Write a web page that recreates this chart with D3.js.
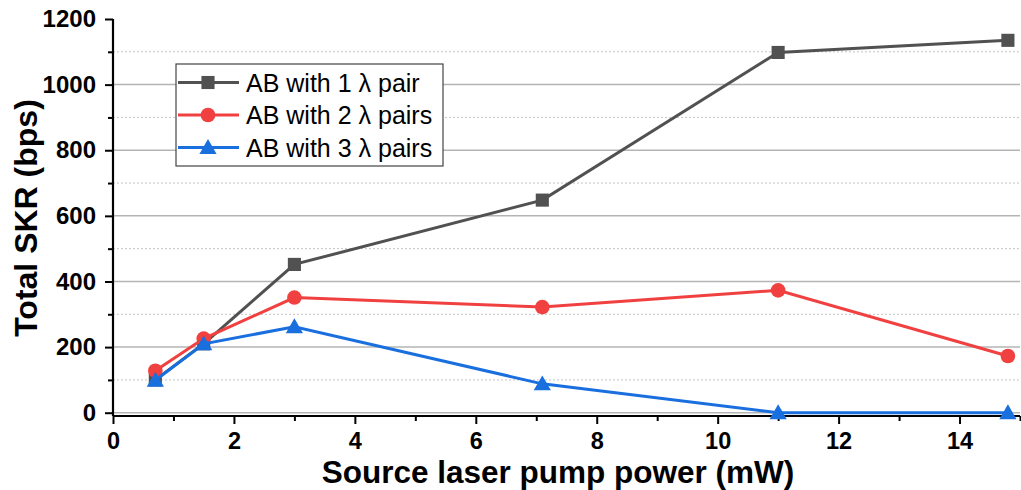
<!DOCTYPE html>
<html>
<head>
<meta charset="utf-8">
<script src="https://cdn.jsdelivr.net/npm/d3@7"></script>
<style>
    body { margin: 0; background: #fff; }
    svg { display: block; font-family: "Liberation Sans", Arial, sans-serif; }
</style>
</head>
<body>
<div id="chart"></div>
<script>
const pumpPower = [0.7, 1.5, 3, 7.1, 11, 14.8];
const onePair = [100, 210, 452, 648, 1098, 1135];
const twoPairs = [128, 226, 351, 322, 373, 173];
const threePairs = [99, 210, 262, 88, 0, 0];
const seriesNames = ['AB with 1 λ pair', 'AB with 2 λ pairs', 'AB with 3 λ pairs'];
const xTicks = [0, 2, 4, 6, 8, 10, 12, 14];
const yTicks = [0, 200, 400, 600, 800, 1000, 1200];

const attrs = {
    svgWidth: 1021,
    svgHeight: 490,
    marginLeft: 113,
    marginTop: 19,
    chartWidth: 907,
    chartHeight: 397,
    colors: ['#515151', '#F14040', '#1A6FDF'],
    symbols: [d3.symbolSquare, d3.symbolCircle, d3.symbolTriangle],
    symbolSizes: [172, 168, 128]
};

const series = [onePair, twoPairs, threePairs].map((vals, i) => ({
    name: seriesNames[i],
    color: attrs.colors[i],
    symbol: attrs.symbols[i],
    size: attrs.symbolSizes[i],
    points: vals.map((v, j) => ({ x: pumpPower[j], y: v }))
}));

const svg = d3.select('#chart').append('svg')
    .attr('width', attrs.svgWidth)
    .attr('height', attrs.svgHeight);

const chart = svg.append('g')
    .attr('transform', `translate(${attrs.marginLeft},${attrs.marginTop})`);

const xScale = d3.scaleLinear().domain([0, 15]).range([0, attrs.chartWidth]);
const yScale = d3.scaleLinear().domain([-10, 1200]).range([attrs.chartHeight, 0]);

// grid lines: solid at majors, dotted at minors
const minorY = d3.range(100, 1200, 200);
chart.append('g').selectAll('line').data(yTicks.filter(d => d < 1200))
    .join('line')
    .attr('x1', 0).attr('x2', attrs.chartWidth)
    .attr('y1', d => yScale(d)).attr('y2', d => yScale(d))
    .attr('stroke', '#b4b4b4').attr('stroke-width', 1.5);
chart.append('g').selectAll('line').data(minorY)
    .join('line')
    .attr('x1', 0).attr('x2', attrs.chartWidth)
    .attr('y1', d => yScale(d)).attr('y2', d => yScale(d))
    .attr('stroke', '#c4c4c4').attr('stroke-width', 1).attr('stroke-dasharray', '2 2');

// axes
const xAxis = d3.axisBottom(xScale).tickValues(xTicks).tickSize(8).tickPadding(8).tickFormat(d3.format('d'));
const yAxis = d3.axisLeft(yScale).tickValues(yTicks).tickSize(8).tickPadding(9).tickFormat(d3.format('d'));

const xAxisWrap = chart.append('g').attr('transform', `translate(0,${attrs.chartHeight})`).call(xAxis);
xAxisWrap.append('g').call(d3.axisBottom(xScale).tickValues(d3.range(1, 16, 2)).tickSize(5).tickFormat(''))
    .select('.domain').remove();
const yAxisWrap = chart.append('g').call(yAxis);
yAxisWrap.append('g').call(d3.axisLeft(yScale).tickValues(minorY).tickSize(5).tickFormat(''))
    .select('.domain').remove();

[xAxisWrap, yAxisWrap].forEach(w => {
    w.selectAll('.domain').attr('stroke', '#000').attr('stroke-width', 2.2);
    w.selectAll('.tick line').attr('stroke', '#000').attr('stroke-width', 2);
    w.selectAll('text').attr('fill', '#000').attr('font-size', 24).attr('font-weight', 'bold')
        .attr('font-family', '"Liberation Sans", Arial, sans-serif');
});
xAxisWrap.selectAll('text').attr('font-size', 23.5);
yAxisWrap.selectAll('.domain').attr('d', `M0,${attrs.chartHeight}V0`);
xAxisWrap.selectAll('.domain').attr('d', `M0,0H${attrs.chartWidth}`);

// axis titles
svg.append('text')
    .text('Source laser pump power (mW)')
    .attr('x', 558).attr('y', 483)
    .attr('text-anchor', 'middle')
    .attr('font-size', 31.5).attr('font-weight', 'bold');

svg.append('text')
    .text('Total SKR (bps)')
    .attr('transform', `translate(37,218) rotate(-90)`)
    .attr('text-anchor', 'middle')
    .attr('font-size', 32).attr('font-weight', 'bold');

// lines + markers
const line = d3.line().x(d => xScale(d.x)).y(d => yScale(d.y));
const seriesWrap = chart.append('g').selectAll('g').data(series).join('g');
seriesWrap.append('path')
    .attr('d', d => line(d.points))
    .attr('fill', 'none')
    .attr('stroke', d => d.color)
    .attr('stroke-width', 3);
seriesWrap.each(function (s) {
    d3.select(this).selectAll('path.marker').data(s.points).join('path')
        .attr('class', 'marker')
        .attr('transform', d => `translate(${xScale(d.x)},${yScale(d.y) + (s.symbol === d3.symbolTriangle ? 1.5 : 0)})`)
        .attr('d', d3.symbol().type(s.symbol).size(s.size))
        .attr('fill', s.color);
});

// legend
const legend = svg.append('g').attr('transform', 'translate(176,64)');
legend.append('rect')
    .attr('width', 267).attr('height', 102)
    .attr('fill', '#fff').attr('stroke', '#444').attr('stroke-width', 1.2);
const rows = legend.selectAll('g.row').data(series).join('g')
    .attr('class', 'row')
    .attr('transform', (d, i) => `translate(0,${18.5 + i * 32.5})`);
rows.append('line')
    .attr('x1', 2).attr('x2', 63)
    .attr('stroke', d => d.color).attr('stroke-width', 3);
rows.append('path')
    .attr('transform', d => `translate(32,${d.symbol === d3.symbolTriangle ? 1.5 : 0})`)
    .attr('d', d => d3.symbol().type(d.symbol).size(d.size)())
    .attr('fill', d => d.color);
rows.append('text')
    .text(d => d.name)
    .attr('x', 70).attr('y', 9)
    .attr('font-size', 25).attr('fill', '#000');
</script>
</body>
</html>
